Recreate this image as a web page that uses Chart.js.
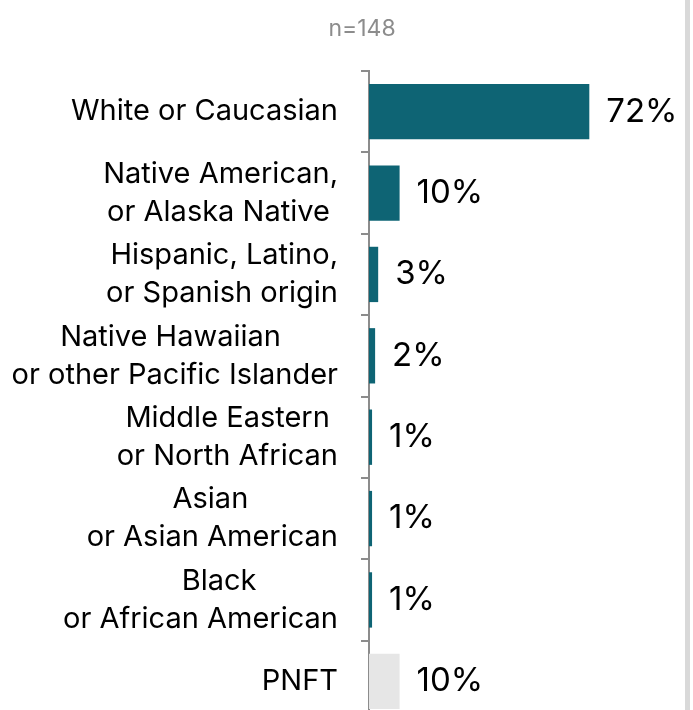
<!DOCTYPE html>
<html>
<head>
<meta charset="utf-8">
<script src="https://cdn.jsdelivr.net/npm/chart.js@4/dist/chart.umd.min.js"></script>
<style>
    html, body { margin: 0; padding: 0; background: #fff; overflow: hidden; }
    #wrap { width: 685px; height: 710px; border-right: 5px solid #d9d9d9; overflow: hidden; }
    canvas { display: block; }
</style>
</head>
<body>
<div id="wrap"><canvas id="chart-race" width="685" height="722"></canvas></div>
<script>
// respondent race / ethnicity, share of n=148
const categories = [
    'White or Caucasian',
    ['Native American,', 'or Alaska Native '],
    ['Hispanic, Latino,', 'or Spanish origin'],
    ['Native Hawaiian       ', 'or other Pacific Islander'],
    ['Middle Eastern ', 'or North African'],
    ['Asian           ', 'or Asian American'],
    ['Black          ', 'or African American'],
    'PNFT',
];
const shares = [72, 10, 3, 2, 1, 1, 1, 10];
const sampleLabel = 'n=148';

const TEAL = '#0e6474';
const PNFT_GRAY = '#e6e6e6';
const AXIS_GRAY = '#8c8c8c';
const FONT = "Inter, sans-serif";

const valueLabels = {
    id: 'valueLabels',
    afterDatasetsDraw(chart) {
        const { ctx } = chart;
        const meta = chart.getDatasetMeta(0);
        ctx.save();
        ctx.font = `33px ${FONT}`;
        ctx.fillStyle = '#000';
        ctx.textAlign = 'left';
        ctx.textBaseline = 'middle';
        meta.data.forEach((bar, i) => {
            ctx.fillText(`${shares[i]}%`, bar.x + 17, bar.y);
        });
        ctx.restore();
    },
};

const sampleNote = {
    id: 'sampleNote',
    afterDraw(chart) {
        const { ctx } = chart;
        ctx.save();
        ctx.font = `23px ${FONT}`;
        ctx.fillStyle = '#8c8c8c';
        ctx.textAlign = 'center';
        ctx.textBaseline = 'middle';
        ctx.fillText(sampleLabel, 362, 29);
        ctx.restore();
    },
};

function createRaceChart() {
    const canvas = document.getElementById('chart-race');
    if (!canvas) return;
    try {
        new Chart(canvas.getContext('2d'), {
            type: 'bar',
            data: {
                labels: categories,
                datasets: [
                    {
                        data: shares,
                        backgroundColor: categories.map(c => (c === 'PNFT' ? PNFT_GRAY : TEAL)),
                        borderWidth: 0,
                        barPercentage: 0.68,
                        categoryPercentage: 1,
                    },
                ],
            },
            plugins: [valueLabels, sampleNote],
            options: {
                indexAxis: 'y',
                responsive: false,
                animation: false,
                layout: { padding: { top: 71, right: 10, bottom: 0, left: 0 } },
                plugins: {
                    legend: { display: false },
                    tooltip: { enabled: false },
                },
                scales: {
                    x: { display: false, min: 0, max: 100 },
                    y: {
                        afterFit: s => {
                            s.width = 369;
                            s.paddingTop = 0;
                            s.paddingBottom = 0;
                        },
                        border: { display: true, color: AXIS_GRAY, width: 2 },
                        grid: { drawOnChartArea: false, drawTicks: true, tickLength: 8, color: AXIS_GRAY, lineWidth: 2, offset: true },
                        ticks: {
                            color: '#000',
                            padding: 23,
                            font: { family: FONT, size: 29, lineHeight: 1.31 },
                        },
                    },
                },
            },
        });
    } catch (err) {
        console.error('[RACE-CHART] FAILED:', err);
    }
}

createRaceChart();
</script>
</body>
</html>
